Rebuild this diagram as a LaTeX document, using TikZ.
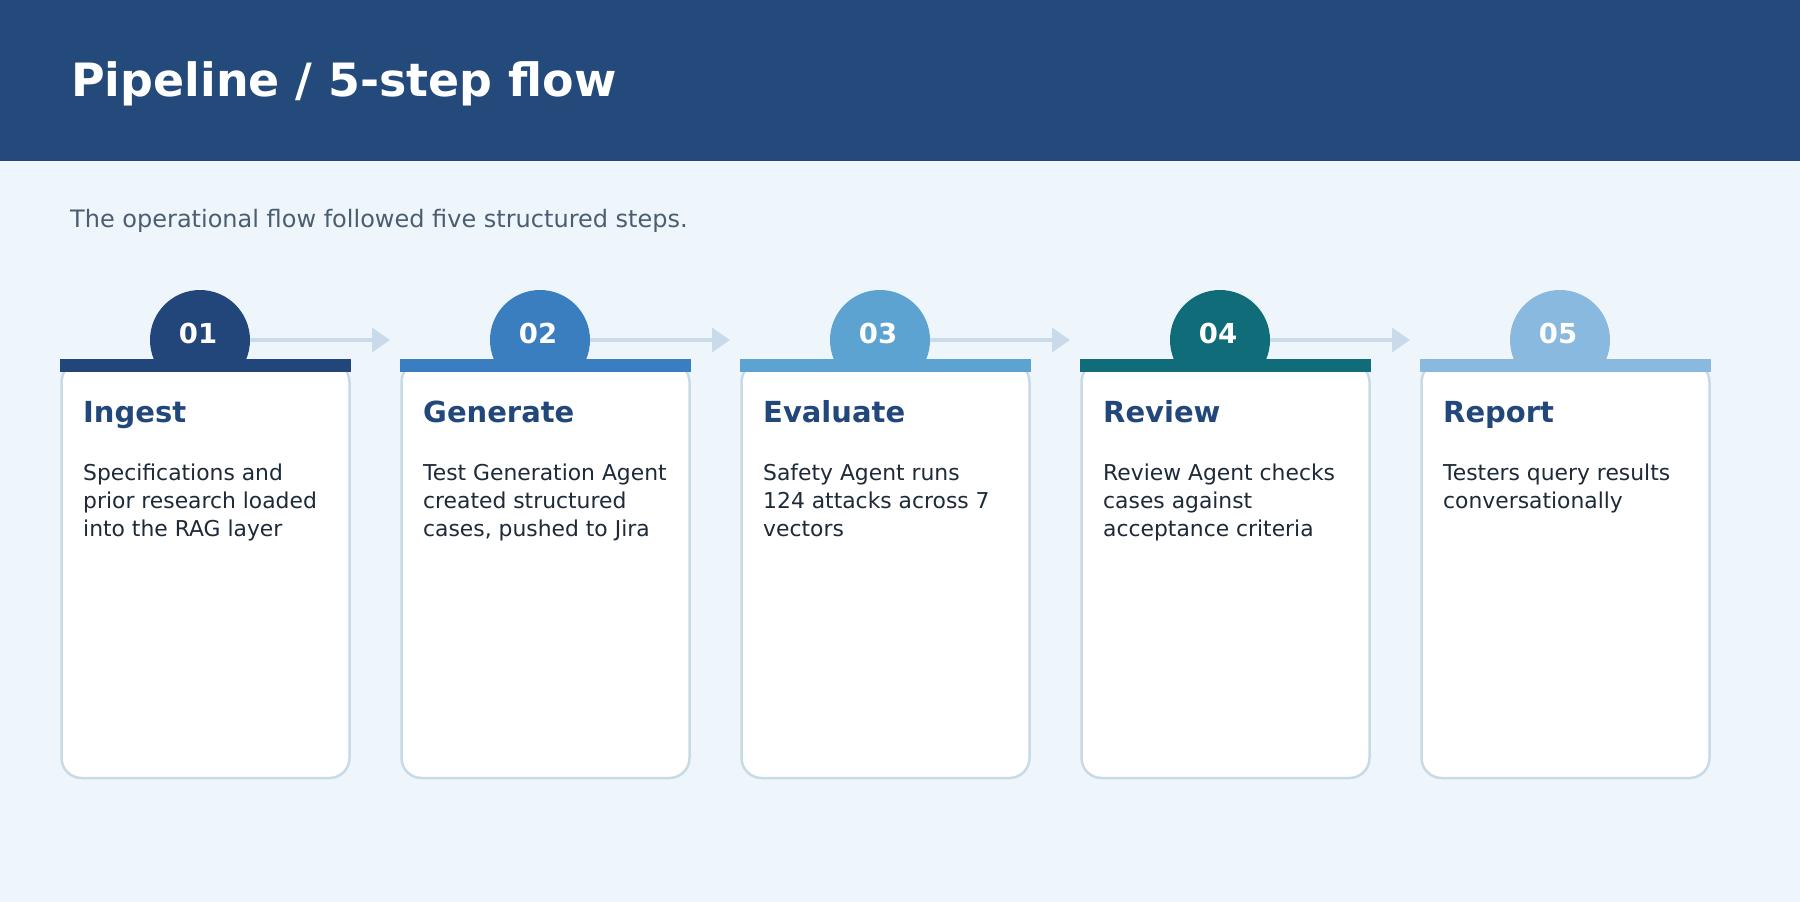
\documentclass[tikz,border=0pt]{standalone}
\usepackage{fontspec}
\setmainfont{DejaVu Sans}
\usetikzlibrary{arrows.meta}
\definecolor{bgc}{HTML}{EEF6FC}
\definecolor{hdrc}{HTML}{244A7C}
\definecolor{subc}{HTML}{4B5E71}
\definecolor{cardline}{HTML}{C8DAE6}
\definecolor{cardtitle}{HTML}{22477A}
\definecolor{bodyc}{HTML}{1E2A38}
\definecolor{arrowc}{HTML}{C9DBEA}
\definecolor{cA}{HTML}{22467A}
\definecolor{cB}{HTML}{3A7EBF}
\definecolor{cC}{HTML}{5CA3D1}
\definecolor{cD}{HTML}{106C78}
\definecolor{cE}{HTML}{8AB9DF}
\newcommand\mylines[1]{\begin{tabular}[t]{@{}l@{}}#1\end{tabular}}
\tikzset{
  stepcircle/.style={circle, inner sep=0pt, minimum size=100pt},
  stepnum/.style={anchor=base, inner sep=0pt, text=white, font=\bfseries\fontsize{27.5}{30}\selectfont},
  cardbox/.style={rectangle, rounded corners=20pt, draw=cardline, line width=2.5pt, fill=white, minimum width=288pt, minimum height=416pt, inner sep=0pt},
  cardhead/.style={anchor=base west, inner sep=0pt, text=cardtitle, font=\bfseries\fontsize{29}{32}\selectfont},
  cardbody/.style={anchor=base west, inner sep=0pt, text=bodyc, font=\fontsize{21.85}{28}\selectfont},
  flowarrow/.style={draw=arrowc, line width=4pt, -{Triangle[length=18pt,width=24pt]}}
}
\begin{document}
\begin{tikzpicture}[x=1pt,y=-1pt]
\useasboundingbox (0,0) rectangle (1800,902);
\fill[bgc] (0,0) rectangle (1800,902);
\fill[hdrc] (0,0) rectangle (1800,161);
\node[anchor=base west, inner sep=0pt, text=white, font=\bfseries\fontsize{45.9}{50}\selectfont] (title) at (71,96) {Pipeline / 5-step flow};
\node[anchor=base west, inner sep=0pt, text=subc, font=\fontsize{24}{28}\selectfont] (subtitle) at (70,227) {The operational flow followed five structured steps.};
\foreach \i/\col/\num/\head/\body in {
  0/cA/01/Ingest/{Specifications and\\prior research loaded\\into the RAG layer},
  1/cB/02/Generate/{Test Generation Agent\\created structured\\cases, pushed to Jira},
  2/cC/03/Evaluate/{Safety Agent runs\\124 attacks across 7\\vectors},
  3/cD/04/Review/{Review Agent checks\\cases against\\acceptance criteria},
  4/cE/05/Report/{Testers query results\\conversationally}}{
  \node[stepcircle, fill=\col] (c\i) at (200+340*\i,340) {};
  \node[cardbox] (k\i) at (205.5+340*\i,570) {};
  \fill[\col] (60+340*\i,359) rectangle (351+340*\i,372);
  \node[stepnum] (n\i) at (198+340*\i,343) {\num};
  \node[cardhead] (h\i) at (83+340*\i,422) {\head};
  \node[cardbody] (b\i) at (83+340*\i,480) {\mylines{\body}};
}
\foreach \i in {0,1,2,3}{
  \coordinate (t\i) at (390+340*\i,340);
  \draw[flowarrow] (c\i.east) -- (t\i);
}
\end{tikzpicture}
\end{document}
